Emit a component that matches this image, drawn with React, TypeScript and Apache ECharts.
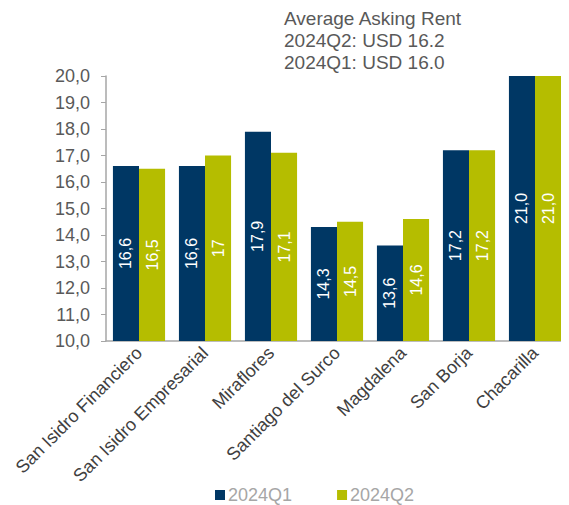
import React, { useEffect, useRef } from "react";
import * as echarts from "echarts";

const categories = [
  "San Isidro Financiero",
  "San Isidro Empresarial",
  "Miraflores",
  "Santiago del Surco",
  "Magdalena",
  "San Borja",
  "Chacarilla",
];
const q1Values = [16.6, 16.6, 17.9, 14.3, 13.6, 17.2, 21.0];
const q2Values = [16.5, 17.0, 17.1, 14.5, 14.6, 17.2, 21.0];
const q1Labels = ["16,6", "16,6", "17,9", "14,3", "13,6", "17,2", "21,0"];
const q2Labels = ["16,5", "17", "17,1", "14,5", "14,6", "17,2", "21,0"];
const titleLines = ["Average Asking Rent", "2024Q2: USD 16.2", "2024Q1: USD 16.0"];

const FONT = "Liberation Sans, Arial, sans-serif";

export default function App() {
  const ref = useRef<HTMLDivElement>(null);
  useEffect(() => {
    if (!ref.current) return;
    const chart = echarts.init(ref.current, null, { renderer: "svg" });
    const mkLabel = (labels: string[]) => ({
      show: true,
      position: "inside",
      rotate: 90,
      color: "#ffffff",
      fontSize: 16,
      fontFamily: FONT,
      formatter: (p: any) => labels[p.dataIndex],
    });
    chart.setOption({
      animation: false,
      textStyle: { fontFamily: FONT },
      title: {
        text: titleLines.join("\n"),
        left: 284,
        top: 7,
        padding: 0,
        textStyle: {
          fontSize: 19,
          fontWeight: "normal",
          color: "#595959",
          lineHeight: 22,
          fontFamily: FONT,
        },
      },
      legend: {
        top: 486,
        left: 215,
        itemWidth: 10,
        itemHeight: 10,
        itemGap: 45,
        padding: 0,
        icon: "rect",
        textStyle: {
          fontSize: 18,
          lineHeight: 18,
          color: "#a6a6a6",
          fontFamily: FONT,
          padding: [0, 0, 0, -2],
        },
        data: ["2024Q1", "2024Q2"],
      },
      grid: { left: 106, right: 1, top: 76, bottom: 164, containLabel: false },
      xAxis: {
        type: "category",
        data: categories,
        axisLine: { lineStyle: { color: "#a6a6a6", width: 1.5 } },
        axisTick: { alignWithLabel: true, length: 5, lineStyle: { color: "#a6a6a6" } },
        axisLabel: {
          rotate: 45,
          interval: 0,
          fontSize: 18,
          color: "#404040",
          fontFamily: FONT,
          margin: 9,
        },
      },
      yAxis: {
        type: "value",
        min: 10,
        max: 20,
        interval: 1,
        splitLine: { show: false },
        axisLine: { show: true, lineStyle: { color: "#a6a6a6", width: 1.5 } },
        axisTick: { show: true, length: 5, lineStyle: { color: "#a6a6a6" } },
        axisLabel: {
          fontSize: 18,
          color: "#595959",
          fontFamily: FONT,
          margin: 16,
          formatter: (v: number) => v.toFixed(1).replace(".", ","),
        },
      },
      series: [
        {
          name: "2024Q1",
          type: "bar",
          data: q1Values,
          itemStyle: { color: "#003764" },
          barGap: "0%",
          barCategoryGap: "21%",
          label: mkLabel(q1Labels),
        },
        {
          name: "2024Q2",
          type: "bar",
          data: q2Values,
          itemStyle: { color: "#b5bd00" },
          label: mkLabel(q2Labels),
        },
      ],
    });
    return () => chart.dispose();
  }, []);
  return <div ref={ref} style={{ width: 569, height: 505, marginLeft: -8, marginTop: -8 }} />;
}
